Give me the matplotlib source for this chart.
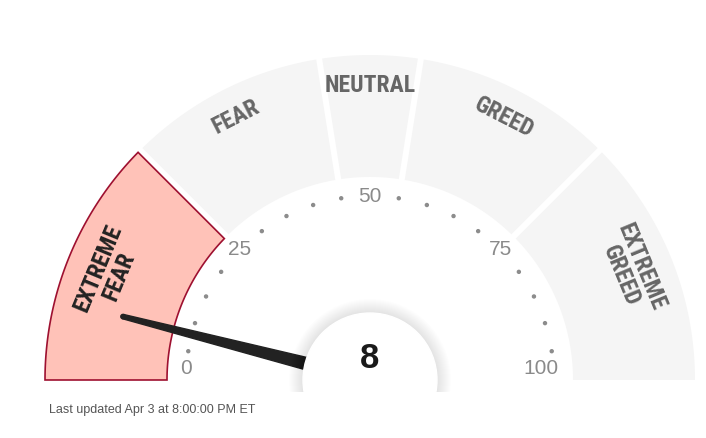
import numpy as np
import matplotlib.pyplot as plt
from matplotlib import font_manager
from matplotlib.patches import Polygon, Circle, Rectangle

# --- data ---
segment_names = ['EXTREME\nFEAR', 'FEAR', 'NEUTRAL', 'GREED', 'EXTREME\nGREED']
segment_bounds = [0, 25, 45, 55, 75, 100]
tick_values = [0, 25, 50, 75, 100]
index_value = 8
updated_text = 'Last updated Apr 3 at 8:00:00 PM ET'

# --- layout (pixels) ---
W, H = 706, 438
CX, CY = 370, H - 380
R_OUT, R_IN = 325, 203
GAP = 6
R_TICK = 184

GRAY = '#f5f5f5'
RED_FILL = '#ffc2b8'
RED_EDGE = '#9e1030'

# pick a narrow face if one is installed
installed = {f.name for f in font_manager.fontManager.ttflist}
narrow = [n for n in ['Liberation Sans Narrow', 'DejaVu Sans Condensed', 'Roboto Condensed',
                      'Open Sans Condensed', 'Noto Sans Condensed'] if n in installed]
LABEL_FAMILY = narrow[:1] + ['DejaVu Sans']
LABEL_SIZE = 17 if narrow else 14
BODY_FAMILY = ['Liberation Sans', 'DejaVu Sans']


def val2ang(v):
    return np.deg2rad(180 - v * 1.8)


def segment_poly(v1, v2):
    a1, a2 = val2ang(v1), val2ang(v2)
    pts = []
    for r, order in ((R_OUT, 1), (R_IN, -1)):
        d1 = np.arcsin(GAP / 2 / r) if v1 > 0 else 0
        d2 = np.arcsin(GAP / 2 / r) if v2 < 100 else 0
        t = np.linspace(a1 - d1, a2 + d2, 80)[::order]
        pts += list(zip(CX + r * np.cos(t), CY + r * np.sin(t)))
    return np.array(pts)


fig = plt.figure(figsize=(W / 100, H / 100), dpi=100)
ax = fig.add_axes([0, 0, 1, 1])
ax.set_xlim(0, W)
ax.set_ylim(0, H)
ax.axis('off')

active = np.searchsorted(segment_bounds, index_value, side='right') - 1
for i, name in enumerate(segment_names):
    v1, v2 = segment_bounds[i], segment_bounds[i + 1]
    if i == active:
        ax.add_patch(Polygon(segment_poly(v1, v2), closed=True, facecolor=RED_FILL,
                             edgecolor=RED_EDGE, lw=1.2, zorder=2))
        tcol = '#222222'
    else:
        ax.add_patch(Polygon(segment_poly(v1, v2), closed=True, facecolor=GRAY,
                             edgecolor='none', zorder=1))
        tcol = '#666666'
    mid = (v1 + v2) / 2
    a = val2ang(mid)
    r = 283 if '\n' in name else 295
    ax.text(CX + r * np.cos(a), CY + r * np.sin(a), name, rotation=np.rad2deg(a) - 90,
            ha='center', va='center', multialignment='center', fontsize=LABEL_SIZE,
            fontweight='bold', color=tcol, family=LABEL_FAMILY, linespacing=0.95,
            rotation_mode='anchor', zorder=3)

# dots and numbers
for v in range(0, 101, 5):
    a = val2ang(v)
    x, y = CX + R_TICK * np.cos(a), CY + R_TICK * np.sin(a)
    if v in tick_values:
        if v == 0:
            y += 12
        elif v == 100:
            y += 12
            x -= 13
        ax.text(x, y, str(v), ha='center', va='center', fontsize=15,
                color='#8a8a8a', family=BODY_FAMILY, zorder=3)
    else:
        ax.add_patch(Circle((x, y), 1.5, color='#8c8c8c', zorder=3))

# needle
a = val2ang(index_value)
L = 255
ux, uy = np.cos(a), np.sin(a)
px, py = -uy, ux
wb, wt = 7.5, 2.2
needle = [(CX + px * wb, CY + py * wb),
          (CX + ux * L + px * wt, CY + uy * L + py * wt),
          (CX + ux * L - px * wt, CY + uy * L - py * wt),
          (CX - px * wb, CY - py * wb)]
ax.add_patch(Polygon(needle, closed=True, color='#222222', zorder=4))
ax.add_patch(Circle((CX + ux * L, CY + uy * L), wt, color='#222222', zorder=4))

# center disc with soft shadow
clip = Rectangle((0, CY - 12), W, H, transform=ax.transData)
for k in range(14, 0, -1):
    c = Circle((CX, CY), 67 + k, color='#000000', alpha=0.006, lw=0, zorder=5)
    ax.add_patch(c)
    c.set_clip_path(clip)
disc = Circle((CX, CY), 67, color='white', zorder=6)
ax.add_patch(disc)
ax.text(CX, CY + 22, str(index_value), ha='center', va='center', fontsize=25,
        fontweight='bold', color='#1a1a1a', family=BODY_FAMILY, zorder=7)

ax.text(49, H - 410, updated_text, ha='left', va='center', fontsize=9,
        color='#555555', family=BODY_FAMILY)

fig.savefig('out.png', dpi=100, facecolor='white')
